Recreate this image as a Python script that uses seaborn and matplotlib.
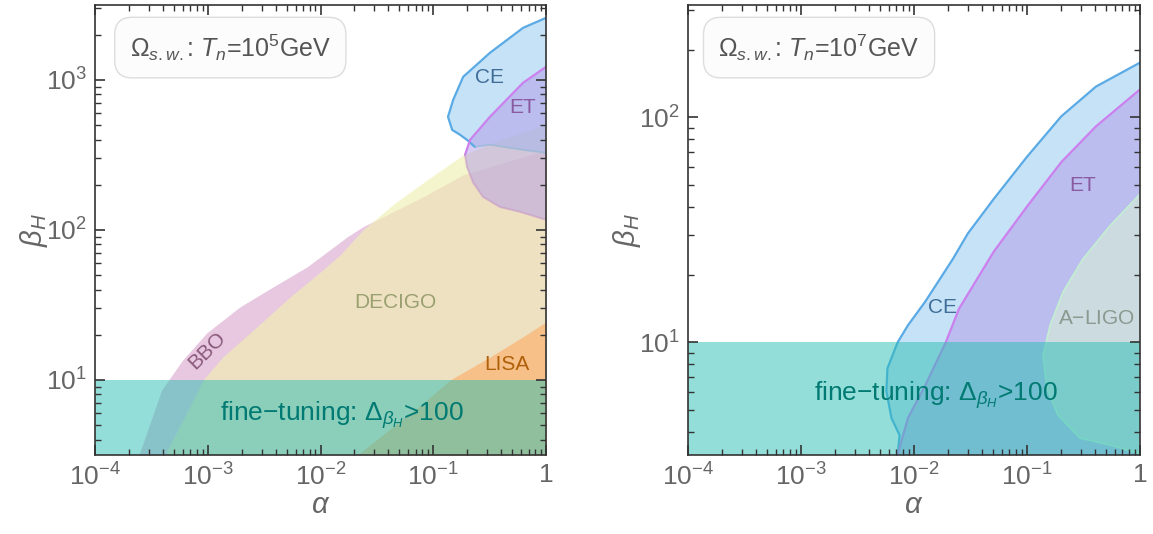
import matplotlib
matplotlib.use("Agg")
import matplotlib.pyplot as plt
from matplotlib.ticker import LogLocator, NullFormatter, FixedLocator, FixedFormatter
import seaborn as sns
import numpy as np

# plot range (both panels)
alpha_lim = (1e-4, 1.0)
beta_lim_left = (10**0.5, 10**3.5)
beta_lim_right = (10**0.5, 10**2.5)
beta_ft = 10.0  # fine-tuning line

# ---- left panel: T_n = 1e5 GeV ----
bbo_a = [2.45e-4, 3.9e-4, 6.0e-4, 9.8e-4, 1.93e-3, 3.8e-3, 7.6e-3, 1.21e-2, 1.72e-2, 2.38e-2, 8.1e-2, 0.184, 0.51, 1.0]
bbo_b = [3.16, 8.6, 13.6, 20.6, 30.7, 41.7, 56.7, 73.6, 89.8, 105, 166, 233, 293, 341]

decigo_a = [4.18e-4, 9.1e-4, 1.36e-3, 2.73e-3, 5.36e-3, 1.05e-2, 1.49e-2, 2.38e-2, 4.58e-2, 8.8e-2, 0.184, 0.391, 1.0]
decigo_b = [3.16, 10.0, 14.2, 22.6, 35.7, 54.1, 68.1, 100, 151, 215, 316, 398, 501]

lisa_a = [2.11e-2, 8.1e-2, 0.141, 0.318, 0.625, 1.0]
lisa_b = [3.16, 7.0, 10.0, 14.2, 19.4, 24.4]

ce1_a = [1.0, 0.625, 0.318, 0.184, 0.150, 0.135, 0.147, 0.173, 0.199, 0.234]
ce1_b = [2590, 2220, 1514, 1047, 735, 567, 464, 430, 398, 357]
ce1_low_a = [0.234, 0.318, 0.625, 1.0]
ce1_low_b = [357, 369, 341, 326]

et1_a = [1.0, 0.625, 0.318, 0.212, 0.191]
et1_b = [1221, 955, 567, 398, 316]
et1_low_a = [0.191, 0.199, 0.226, 0.276, 0.391, 0.587, 0.885, 1.0]
et1_low_b = [316, 263, 206, 166, 142, 132, 120, 117]

# ---- right panel: T_n = 1e7 GeV ----
ce2_a = [1.0, 0.408, 0.201, 0.101, 0.0508, 0.03, 0.0221, 0.0126, 8.83e-3, 7.16e-3, 5.82e-3, 5.7e-3, 6.32e-3, 7.46e-3, 7.16e-3]
ce2_b = [175, 137, 101, 67.2, 43.4, 30.5, 23.5, 15.2, 11.9, 10.0, 7.67, 6.07, 4.61, 3.87, 3.16]

et2_a = [1.0, 0.408, 0.201, 0.101, 0.0508, 0.025, 0.0191, 0.0126, 8.83e-3, 7.16e-3]
et2_b = [133, 91.2, 63.2, 40.4, 25.3, 14.1, 10.0, 6.45, 4.61, 3.16]

ligo_a = [1.0, 0.543, 0.313, 0.209, 0.160, 0.139, 0.150, 0.188, 0.294, 0.543, 1.0]
ligo_b = [45.6, 33.0, 23.5, 16.8, 11.9, 8.75, 6.26, 4.75, 3.76, 3.5, 3.2]

x_ticks = [1e-4, 1e-3, 1e-2, 1e-1, 1]
x_ticklabels = [r"$10^{-4}$", r"$10^{-3}$", r"$10^{-2}$", r"$10^{-1}$", "1"]

sns.set_theme(style="ticks")
plt.rcParams["font.family"] = ["Liberation Sans", "DejaVu Sans"]
plt.rcParams["mathtext.fontset"] = "custom"
plt.rcParams["mathtext.rm"] = "Liberation Sans"
plt.rcParams["mathtext.it"] = "Liberation Sans:italic"
plt.rcParams["mathtext.bf"] = "Liberation Sans:bold"
plt.rcParams["axes.axisbelow"] = False
plt.rcParams["xtick.top"] = True
plt.rcParams["ytick.right"] = True

grey = "#666666"
tick_col = "#333333"
teal = "#2bbfb5"
ft_text = r"fine$-$tuning: $\Delta_{\beta_H}$>100"

fig = plt.figure(figsize=(11.53, 5.34), dpi=100)
ax1 = fig.add_axes([0.0824, 0.148, 0.3912, 0.843])
ax2 = fig.add_axes([0.5967, 0.148, 0.392, 0.843])
for ax in (ax1, ax2):
    ax.set_xscale("log")
    ax.set_yscale("log")


def style_axes(ax, ylim, yticks):
    ax.set_axisbelow(False)
    ax.set_xlim(*alpha_lim)
    ax.set_ylim(*ylim)
    ax.xaxis.set_major_locator(FixedLocator(x_ticks))
    ax.xaxis.set_major_formatter(FixedFormatter(x_ticklabels))
    ax.yaxis.set_major_locator(FixedLocator(yticks))
    ax.yaxis.set_major_formatter(FixedFormatter([r"$10^{%d}$" % int(round(np.log10(t))) for t in yticks]))
    for axis in (ax.xaxis, ax.yaxis):
        axis.set_minor_locator(LogLocator(base=10, subs=np.arange(2, 10), numticks=30))
        axis.set_minor_formatter(NullFormatter())
    ax.xaxis.set_ticks_position("both")
    ax.yaxis.set_ticks_position("both")
    ax.tick_params(which="major", direction="in", length=7, width=1.2, color=tick_col,
                   top=True, right=True, bottom=True, left=True,
                   labeltop=False, labelright=False,
                   labelsize=19, labelcolor=grey, pad=6)
    ax.tick_params(which="minor", direction="in", length=4, width=1.0, color=tick_col,
                   top=True, right=True, bottom=True, left=True)
    for s in ax.spines.values():
        s.set_color("#333333")
        s.set_linewidth(1.2)
        s.set_zorder(7)
    ax.set_xlabel(r"$\alpha$", fontsize=21, color=grey, labelpad=0)
    ax.set_ylabel(r"$\beta_H$", fontsize=21, color=grey, labelpad=-3)


# left panel fills
ax1.fill_between(bbo_a, beta_lim_left[0], bbo_b, color="#e8c8e0", lw=0, zorder=1)
ax1.fill_between(decigo_a, beta_lim_left[0], decigo_b, color="#f0f0b2", alpha=0.65, lw=0, zorder=1.1)
ax1.fill_between(lisa_a, beta_lim_left[0], lisa_b, color="#ffa050", alpha=0.5, lw=0, zorder=1.2)
ax1.fill(ce1_a + ce1_low_a[1:], ce1_b + ce1_low_b[1:], color="#8ec6ee", alpha=0.5, lw=0, zorder=1.3)
ax1.fill(et1_a + et1_low_a[1:], et1_b + et1_low_b[1:], color="#b09ae8", alpha=0.5, lw=0, zorder=1.4)
sns.lineplot(x=ce1_a, y=ce1_b, sort=False, estimator=None, ax=ax1, color="#5aaae6", lw=1.6, zorder=2)
sns.lineplot(x=ce1_low_a, y=ce1_low_b, sort=False, estimator=None, ax=ax1, color="#8ab8d0", lw=1.2, alpha=0.6, zorder=2)
sns.lineplot(x=et1_a, y=et1_b, sort=False, estimator=None, ax=ax1, color="#cc80ee", lw=1.6, zorder=2)
sns.lineplot(x=et1_low_a, y=et1_low_b, sort=False, estimator=None, ax=ax1, color="#c898c8", lw=1.4, alpha=0.6, zorder=2)
ax1.fill_between(alpha_lim, beta_lim_left[0], beta_ft, color=teal, alpha=0.5, lw=0, zorder=2.2)

ax1.text(0.318, 1031, "CE", fontsize=15, color="#3f6e9a", ha="center", va="center", zorder=5)
ax1.text(0.625, 651, "ET", fontsize=15, color="#8a5aa0", ha="center", va="center", zorder=5)
ax1.text(0.0458, 32.6, "DECIGO", fontsize=15, color="#9aa070", ha="center", va="center", zorder=5)
ax1.text(9.8e-4, 15.8, "BBO", fontsize=15, color="#8a5a7a", ha="center", va="center", rotation=45, zorder=5)
ax1.text(0.451, 12.6, "LISA", fontsize=15, color="#b0600a", ha="center", va="center", zorder=5)
ax1.text(0.0155, 5.84, ft_text, fontsize=19, color="#007a72", ha="center", va="center", zorder=5)

# right panel fills
ax2.fill(ce2_a + [alpha_lim[1]], ce2_b + [beta_lim_right[0]], color="#8ec6ee", alpha=0.5, lw=0, zorder=1)
ax2.fill(et2_a + [alpha_lim[1]], et2_b + [beta_lim_right[0]], color="#b09ae8", alpha=0.5, lw=0, zorder=1.1)
ax2.fill(ligo_a, ligo_b, color="#d8f0d8", alpha=0.6, lw=0, zorder=1.2)
sns.lineplot(x=ce2_a, y=ce2_b, sort=False, estimator=None, ax=ax2, color="#5aaae6", lw=1.6, zorder=2)
sns.lineplot(x=et2_a, y=et2_b, sort=False, estimator=None, ax=ax2, color="#cc80ee", lw=1.6, zorder=2)
sns.lineplot(x=ligo_a, y=ligo_b, sort=False, estimator=None, ax=ax2, color="#c4eed2", lw=1.2, zorder=2)
ax2.fill_between(alpha_lim, beta_lim_right[0], beta_ft, color=teal, alpha=0.5, lw=0, zorder=2.2)

ax2.text(0.313, 49.6, "ET", fontsize=15, color="#8a5aa0", ha="center", va="center", zorder=5)
ax2.text(0.018, 14.3, "CE", fontsize=15, color="#3f6e9a", ha="center", va="center", zorder=5)
ax2.text(0.416, 12.8, "A$-$LIGO", fontsize=15, color="#8a9a90", ha="center", va="center", zorder=5)
ax2.text(0.0155, 5.82, ft_text, fontsize=19, color="#007a72", ha="center", va="center", zorder=5)

box = dict(boxstyle="round,pad=0.6,rounding_size=0.7", fc="#fcfcfc", ec="#dddddd", lw=1)
ax1.text(0.30, 0.905, r"$\Omega_{s.w.}$: $T_n$=10$^5$GeV", transform=ax1.transAxes,
         fontsize=18, color="#555555", ha="center", va="center", bbox=box, zorder=6)
ax2.text(0.29, 0.905, r"$\Omega_{s.w.}$: $T_n$=10$^7$GeV", transform=ax2.transAxes,
         fontsize=18, color="#555555", ha="center", va="center", bbox=box, zorder=6)

# axis styling last, so nothing above resets it
style_axes(ax1, beta_lim_left, [10, 100, 1000])
style_axes(ax2, beta_lim_right, [10, 100])

fig.savefig("out.png", dpi=100)
